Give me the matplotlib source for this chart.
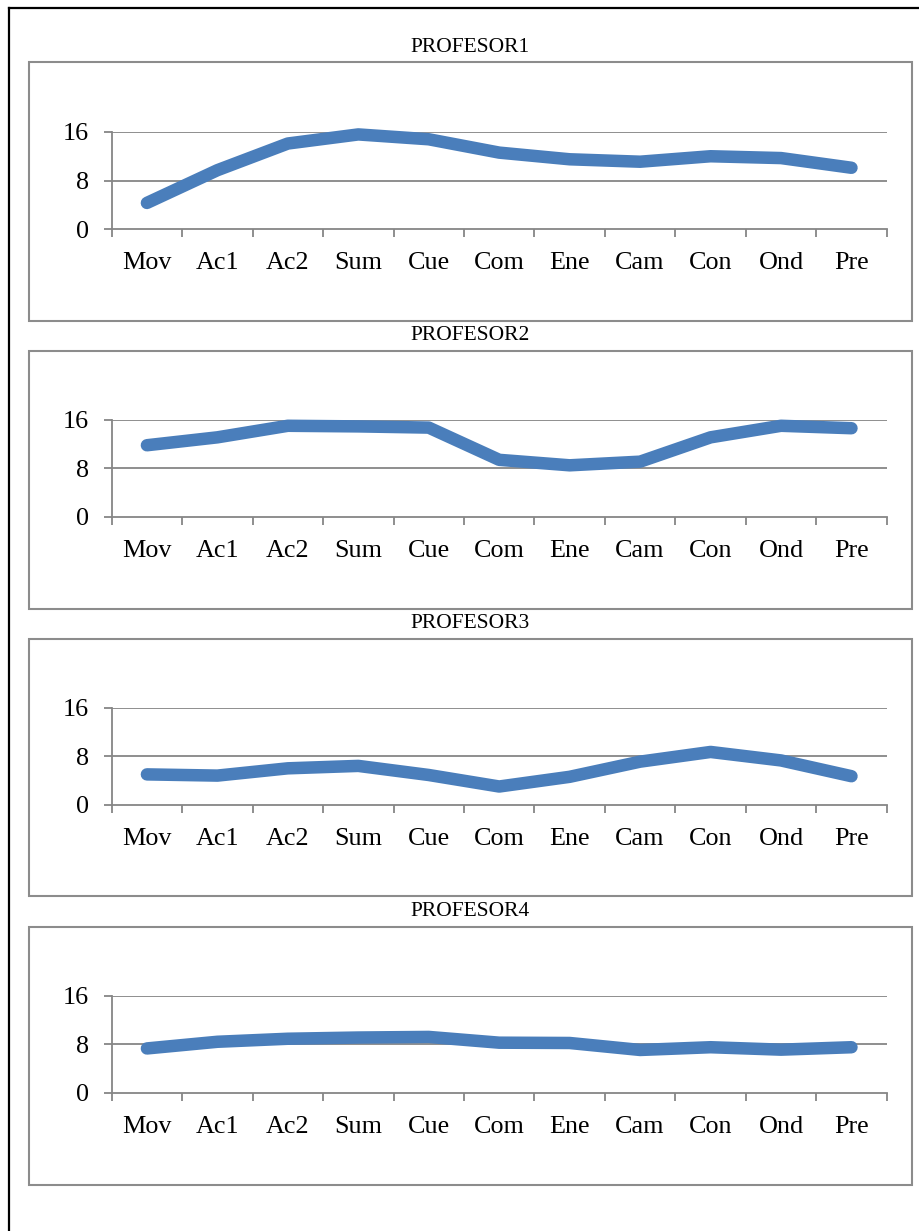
import matplotlib
matplotlib.use("Agg")
import matplotlib.pyplot as plt
from matplotlib.patches import Rectangle
from matplotlib.lines import Line2D

categories = ["Mov", "Ac1", "Ac2", "Sum", "Cue", "Com", "Ene", "Cam", "Con", "Ond", "Pre"]
titles = ["PROFESOR1", "PROFESOR2", "PROFESOR3", "PROFESOR4"]

profesor1 = [4.3, 9.7, 14.1, 15.6, 14.8, 12.6, 11.5, 11.1, 12.0, 11.7, 10.1]
profesor2 = [11.8, 13.1, 15.0, 14.9, 14.7, 9.4, 8.5, 9.1, 13.1, 15.0, 14.6]
profesor3 = [5.0, 4.8, 6.0, 6.4, 4.9, 3.0, 4.6, 7.1, 8.7, 7.3, 4.7]
profesor4 = [7.3, 8.4, 8.9, 9.1, 9.2, 8.25, 8.2, 7.05, 7.5, 7.1, 7.5]
series = [profesor1, profesor2, profesor3, profesor4]

y_ticks = [0, 8, 16]

W, H = 920, 1231
fig = plt.figure(figsize=(W / 100, H / 100), dpi=100)
plt.rcParams["font.family"] = ["Liberation Serif", "DejaVu Serif"]

LINE_COLOR = "#4A7EBB"
GRID_COLOR = "#868686"
BOX_COLOR = "#8c8c8c"


def fx(px):
    return px / W


def fy(py):
    return 1 - py / H


# outer page border (left and top edges)
fig.add_artist(Line2D([fx(9), fx(9)], [fy(8), 0], transform=fig.transFigure,
                      color="black", lw=1.6))
fig.add_artist(Line2D([fx(9), 1], [fy(8), fy(8)], transform=fig.transFigure,
                      color="black", lw=1.6))

# panel geometry in pixels: box top, box bottom, axis y=16, axis y=0, title baseline
panels = [
    (62, 321, 132, 229, 52),
    (351, 609, 419.7, 517, 340),
    (639, 896, 707.7, 804.7, 628),
    (927, 1185, 995.7, 1092.7, 916),
]

ax_left, ax_right = 111.7, 886.7
box_left, box_right = 29, 911.7

n = len(categories)
xs = list(range(n))

for (btop, bbot, ytop, ybot, tbase), title, vals in zip(panels, titles, series):
    fig.add_artist(Rectangle((fx(box_left), fy(bbot)), fx(box_right) - fx(box_left),
                             fy(btop) - fy(bbot), transform=fig.transFigure,
                             fill=False, edgecolor=BOX_COLOR, lw=1.5))
    fig.text(fx(470), fy(tbase), title, ha="center", va="baseline", fontsize=15.5)

    ax = fig.add_axes([fx(ax_left), fy(ybot), fx(ax_right) - fx(ax_left),
                       fy(ytop) - fy(ybot)])
    ax.set_xlim(-0.5, n - 0.5)
    ax.set_ylim(0, 16)
    for s in ("top", "right"):
        ax.spines[s].set_visible(False)
    for s in ("left", "bottom"):
        ax.spines[s].set_color(GRID_COLOR)
        ax.spines[s].set_linewidth(1.3)

    for yv in y_ticks[1:]:
        ax.axhline(yv, color=GRID_COLOR, lw=1.3, zorder=1)

    ax.set_yticks(y_ticks)
    ax.set_yticklabels([str(v) for v in y_ticks], fontsize=18.8)
    ax.tick_params(axis="y", length=5.5, width=1.3, color=GRID_COLOR, pad=11)

    ax.set_xticks([i - 0.5 for i in range(n + 1)])
    ax.set_xticklabels([])
    ax.tick_params(axis="x", which="major", length=5.5, width=1.3,
                   color=GRID_COLOR, direction="out")
    ax.set_xticks(xs, minor=True)
    ax.set_xticklabels(categories, minor=True, fontsize=18.8)
    ax.tick_params(axis="x", which="minor", length=0, pad=16.5)

    ax.plot(xs, vals, color=LINE_COLOR, lw=9, solid_capstyle="round",
            solid_joinstyle="round", clip_on=False, zorder=3)
    ax.patch.set_visible(False)

fig.savefig("out.png", dpi=100, facecolor="white")
